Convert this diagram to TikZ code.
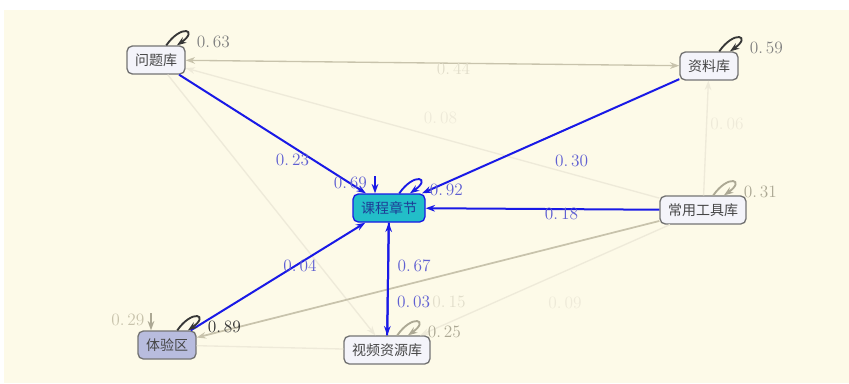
\documentclass[tikz,border=0pt]{standalone}
\usepackage{fontspec}
\usepackage{tikz}
\newfontfamily\cjk{Noto Sans CJK SC}
\usetikzlibrary{arrows.meta}

\definecolor{bgcream}{RGB}{253,250,232}
\definecolor{lineblue}{RGB}{25,25,230}
\definecolor{lblblue}{RGB}{95,95,210}
\definecolor{boxline}{RGB}{115,115,115}
\definecolor{boxfill}{RGB}{244,244,250}
\definecolor{chapfill}{RGB}{34,190,200}
\definecolor{chaptext}{RGB}{30,60,150}
\definecolor{expfill}{RGB}{184,188,222}
\definecolor{boxtext}{RGB}{70,70,70}
\definecolor{grayA}{RGB}{200,195,172}
\definecolor{grayB}{RGB}{226,222,203}
\definecolor{grayC}{RGB}{238,234,217}
\definecolor{loopdark}{RGB}{55,55,55}
\definecolor{loopgray}{RGB}{172,168,148}

\newcommand{\lbl}{\fontsize{13}{15}\selectfont}

\tikzset{
	selfloop/.style={out=55,in=35,min distance=7mm,line width=1.4pt},
	looplabel/.style={pos=0.5,anchor=west,shift={(6,10)}},
}

\begin{document}
\begin{tikzpicture}[x=0.75pt,y=-0.75pt,>={Stealth[length=7pt,width=5pt]}]
	\useasboundingbox (0,0) rectangle (849,383);
	\fill[white] (0,0) rectangle (849,383);
	\fill[bgcream] (4,10) rectangle (849,383);

	\begin{scope}[every node/.style={rectangle,rounded corners=4pt,draw=boxline,fill=boxfill,line width=1pt,minimum height=21pt,inner xsep=6pt,text=boxtext,font=\cjk\fontsize{10.5}{12}\selectfont}]
		\node (Q) at (156,60) {问题库};
		\node (M) at (709,66) {资料库};
		\node [fill=chapfill,draw=lineblue,text=chaptext] (C) at (389,208) {课程章节};
		\node (T) at (703,210) {常用工具库};
		\node [fill=expfill] (E) at (167,345) {体验区};
		\node (V) at (387,350) {视频资源库};
	\end{scope}

	\coordinate (c69) at (375,176);
	\coordinate (e29) at (151,313);

	\begin{scope}[every edge/.style={draw=grayC,line width=1pt},every node/.style={font=\lbl,text=grayB}]
		\path [->] (Q) edge (V);
		\path [->] (T) edge node [shift={(20,23)},text=grayC] {0.\,09} (V);
		\path (E) edge (V);
		\path [->] (T) edge node [shift={(18,-15)},text=grayC] {0.\,08} (Q);
		\path [->] (T) edge node [shift={(21,-14)},text=grayC] {0.\,06} (M);
		\path [<->] (Q) edge [draw=grayA] node [shift={(21,6)}] {0.\,44} (M);
		\path [->] (T) edge [draw=grayA,line width=1.3pt] node [shift={(21,23)}] {0.\,15} (E);
		\path [->] (e29) edge [draw=loopgray,line width=1.3pt] node [pos=0.4,left=1pt,text=grayA] {0.\,29} (e29 |- E.north);
	\end{scope}

	\begin{scope}[every edge/.style={draw=lineblue,line width=1.5pt},every node/.style={font=\lbl,text=lblblue}]
		\path [->] (Q) edge node [shift={(20,26)}] {0.\,23} (C);
		\path [->] (M) edge node [shift={(21,25)}] {0.\,30} (C);
		\path [->] (T) edge node [shift={(19,5)}] {0.\,18} (C);
		\path [->] (E) edge node [shift={(22,-11)}] {0.\,04} (C);
		\path [->] (C) edge node [pos=0.38,right=3pt] {0.\,67} (V);
		\path [->] (V) edge node [pos=0.3,right=3pt] {0.\,03} (C);
		\path [->] (c69) edge node [pos=0.4,left=2pt] {0.\,69} (c69 |- C.north);
	\end{scope}

	\begin{scope}[every edge/.style={draw=loopdark,selfloop},every node/.style={font=\lbl,looplabel}]
		\path [->] (Q) edge node [text=gray] {0.\,63} (Q);
		\path [->] (M) edge node [text=gray] {0.\,59} (M);
		\path [->] (C) edge [draw=lineblue] node [text=lblblue] {0.\,92} (C);
		\path [->] (T) edge [draw=loopgray] node [text=loopgray] {0.\,31} (T);
		\path [->] (E) edge node [text=black!80] {0.\,89} (E);
		\path [->] (V) edge [draw=loopgray] node [text=loopgray] {0.\,25} (V);
	\end{scope}
\end{tikzpicture}
\end{document}
